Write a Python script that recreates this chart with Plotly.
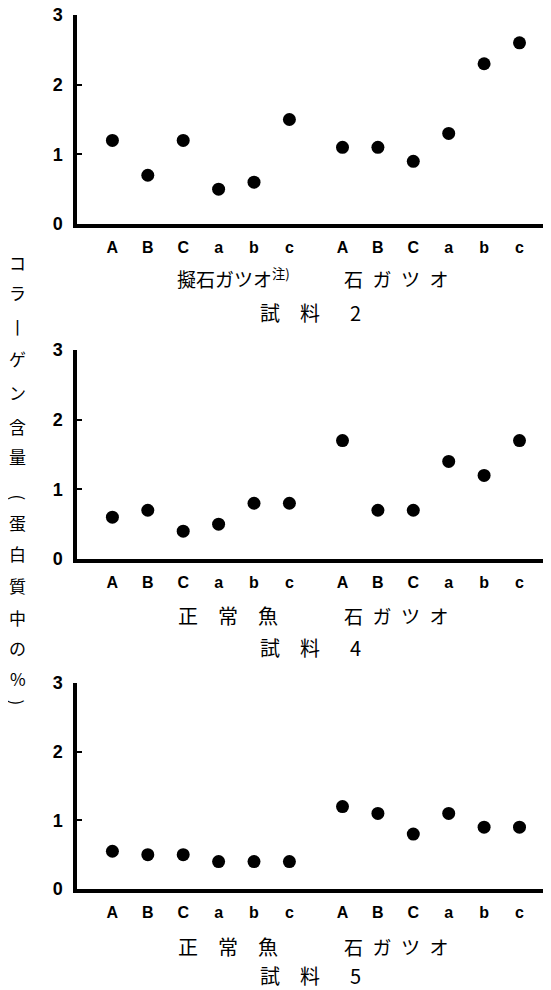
import plotly.graph_objects as go

# ---- data ----
categories = ["A", "B", "C", "a", "b", "c"]
panel_titles = ["試　料\u3000\u20022", "試　料\u3000\u20024", "試　料\u3000\u20025"]
left_groups = ["擬石ガツオ<sup>注)</sup>", "正　常　魚", "正　常　魚"]
right_groups = ["石\u2002ガ\u2002ツ\u2002オ", "石\u2002ガ\u2002ツ\u2002オ", "石\u2002ガ\u2002ツ\u2002オ"]
y_ticks = [0, 1, 2, 3]
y_title = "コラ丨ゲン含量(蛋白質中の%)"

s2_left = [1.2, 0.7, 1.2, 0.5, 0.6, 1.5]
s2_right = [1.1, 1.1, 0.9, 1.3, 2.3, 2.6]
s4_left = [0.6, 0.7, 0.4, 0.5, 0.8, 0.8]
s4_right = [1.7, 0.7, 0.7, 1.4, 1.2, 1.7]
s5_left = [0.55, 0.5, 0.5, 0.4, 0.4, 0.4]
s5_right = [1.2, 1.1, 0.8, 1.1, 0.9, 0.9]

panels = [(s2_left, s2_right), (s4_left, s4_right), (s5_left, s5_right)]

# ---- layout helpers ----
W, H = 551, 990
OFF = 8            # page body margin offset (screen px)
L = 69             # left margin (figure px)
PW = W - L
UNIT = 35.4        # px per category step
GAP = 1.5          # spacing between the two groups (in category units)


def sx(px):
    """screen x pixel -> paper x"""
    return (px - OFF - L) / PW


def sy(py):
    """screen y pixel -> paper y"""
    return 1 - (py - OFF) / H


n = len(categories)
xpos = [i for i in range(n)] + [n - 1 + GAP + i for i in range(n)]
xlabels = categories + categories
x_range = [-1, -1 + PW / UNIT]

# screen rows: (y of value 0, y of value 3)
rows = [(224, 15), (559, 350), (889, 683)]
group_label_y = [278, 615, 946]
title_y = [312, 647, 975]
left_label_x = [233, 228, 228]

fig = go.Figure()
layout = dict(
    width=W, height=H,
    margin=dict(l=L, r=0, t=0, b=0, autoexpand=False),
    paper_bgcolor="white", plot_bgcolor="white",
    showlegend=False,
)

annotations = []
for k, (left, right) in enumerate(panels):
    sfx = "" if k == 0 else str(k + 1)
    fig.add_trace(go.Scatter(
        x=xpos, y=left + right, mode="markers",
        marker=dict(color="black", size=13),
        xaxis="x" + sfx, yaxis="y" + sfx, cliponaxis=False,
    ))
    y0, y3 = rows[k]
    layout["xaxis" + sfx] = dict(
        domain=[0, 1], range=x_range, anchor="y" + sfx, automargin=False,
        showgrid=False, zeroline=False, showline=True, linecolor="black", linewidth=3.5,
        tickmode="array", tickvals=xpos, ticktext=xlabels, ticks="",
        tickfont=dict(family="Liberation Sans", size=16, color="black", weight="bold"),
        ticklabelstandoff=6, ticklabeloverflow="allow",
    )
    layout["yaxis" + sfx] = dict(
        domain=[sy(y0), sy(y3)], range=[0, 3], anchor="x" + sfx, automargin=False,
        showgrid=False, zeroline=False, showline=True, linecolor="black", linewidth=3.5,
        tickmode="array", tickvals=y_ticks, ticktext=[str(v) for v in y_ticks],
        ticks="inside", ticklen=5, tickwidth=2, tickcolor="black",
        tickfont=dict(family="Liberation Sans", size=18, color="black", weight="bold"),
        ticklabelstandoff=7, ticklabeloverflow="allow",
    )
    cjk = dict(family="Noto Sans CJK JP", size=19, color="black")
    cjk20 = dict(family="Noto Sans CJK JP", size=20, color="black")
    annotations.append(dict(text=left_groups[k], x=sx(left_label_x[k]), y=sy(group_label_y[k]),
                            xref="paper", yref="paper", showarrow=False,
                            font=cjk if k == 0 else cjk20,
                            xanchor="center", yanchor="middle"))
    annotations.append(dict(text=right_groups[k], x=sx(396), y=sy(group_label_y[k]),
                            xref="paper", yref="paper", showarrow=False, font=cjk,
                            xanchor="center", yanchor="middle"))
    annotations.append(dict(text=panel_titles[k], x=sx(310), y=sy(title_y[k]),
                            xref="paper", yref="paper", showarrow=False, font=cjk20,
                            xanchor="center", yanchor="middle"))

# vertical y-axis title, one character per annotation (parens rotated)
char_y = [262, 292, 326, 358, 392, 427, 457, 497, 522, 553, 585, 617, 647, 678, 702]
for ch, cy in zip(y_title, char_y):
    angle = 90 if ch in "()" else 0
    annotations.append(dict(text=ch, x=sx(17.5), y=sy(cy), xref="paper", yref="paper",
                            showarrow=False, xanchor="center", yanchor="middle",
                            textangle=angle,
                            font=dict(family="Noto Sans CJK JP", size=17, color="black")))

layout["annotations"] = annotations
fig.update_layout(**layout)
fig.write_html("out.html")
